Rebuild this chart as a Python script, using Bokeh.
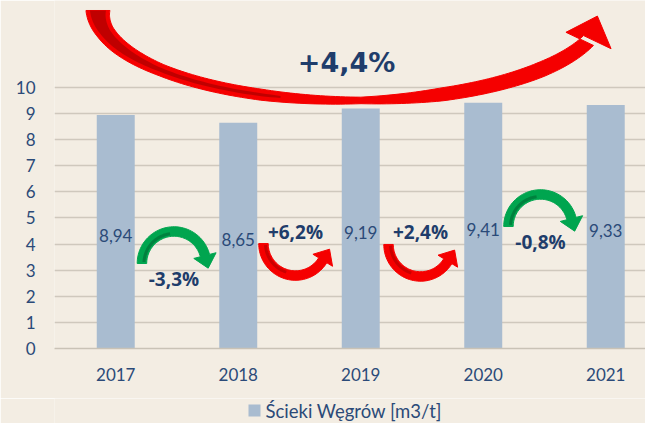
import numpy as np
from bokeh.plotting import figure
from bokeh.layouts import column
from bokeh.models import (ColumnDataSource, FixedTicker, Range1d)
from bokeh.embed import file_html
from bokeh.resources import INLINE
from bokeh.core.properties import value

# ---------------- data ----------------
years = ["2017", "2018", "2019", "2020", "2021"]
values = [8.94, 8.65, 9.19, 9.41, 9.33]
value_labels = ["8,94", "8,65", "9,19", "9,41", "9,33"]
change_labels = ["-3,3%", "+6,2%", "+2,4%", "-0,8%"]
total_label = "+4,4%"
y_ticks = [0, 1, 2, 3, 4, 5, 6, 7, 8, 9, 10]
series_name = "Ścieki Węgrów [m3/t]"

# ---------------- layout / style ----------------
BG = "#f3ede3"
BAR = "#a9bcd0"
TXT = "#2b4a78"
BOLD = "#1f3d6b"
RED, RED_DK = "#f50000", "#c00000"
GRN, GRN_DK = "#00a54f", "#00783a"

W, H = 645, 423
LEFT, BOTTOM = 54, 50
FH = 348
H1 = FH + BOTTOM
H2 = H - H1
FW = W - LEFT
X0, X1 = -0.5, -0.5 + FW / 122.5
Y0, Y1 = 0.0, 13.33
SX = FW / (X1 - X0)   # px per x unit
SY = FH / (Y1 - Y0)   # px per y unit

xs = list(range(len(years)))
xr = Range1d(X0, X1)

p1 = figure(width=W, height=H1, output_backend="svg", toolbar_location=None,
            x_range=xr, y_range=Range1d(Y0, Y1),
            min_border_left=LEFT, min_border_right=0, min_border_top=0, min_border_bottom=BOTTOM)
p1.background_fill_color = BG
p1.border_fill_color = BG
p1.outline_line_color = None

# axes
p1.xaxis.ticker = FixedTicker(ticks=xs)
p1.xaxis.major_label_overrides = {i: y for i, y in enumerate(years)}
p1.xaxis.axis_line_color = "#c9c2b6"
p1.xaxis.axis_line_width = 1.5
p1.xaxis.major_tick_line_color = None
p1.xaxis.minor_tick_line_color = None
p1.xaxis.major_label_standoff = 13
p1.xaxis.major_label_text_font = "Lato"
p1.xaxis.major_label_text_font_size = "17px"
p1.xaxis.major_label_text_color = TXT

p1.yaxis.ticker = FixedTicker(ticks=y_ticks)
p1.yaxis.axis_line_color = None
p1.yaxis.major_tick_line_color = None
p1.yaxis.minor_tick_line_color = None
p1.yaxis.major_label_standoff = 13
p1.yaxis.major_label_text_font = "Lato"
p1.yaxis.major_label_text_font_size = "17px"
p1.yaxis.major_label_text_color = TXT

p1.xgrid.grid_line_color = None
p1.ygrid.ticker = FixedTicker(ticks=y_ticks)
p1.ygrid.grid_line_color = "#cfc8bd"
p1.ygrid.grid_line_width = 1.3

# bars
src = ColumnDataSource(dict(x=xs, top=values, lab=value_labels,
                            ly=[v / 2 - 0.14 for v in values]))
bars = p1.vbar(x="x", top="top", width=0.31, source=src, fill_color=BAR, line_color=None)
p1.text(x="x", y="ly", text="lab", source=src, text_align="center", text_baseline="middle",
        text_font=value("Lato"), text_font_size="17px", text_color=TXT)

# ---------------- curved arrows (annotation shapes in px around data anchors) ----------------
def to_data(cx, cy, dx, dy):
    return list(cx + np.asarray(dx) / SX), list(cy + np.asarray(dy) / SY)

def arc_arrow(cx, cy, r, w, a0, a1, head_len, head_w, n=50):
    t = np.linspace(a0, a1, n)
    nx, ny = np.cos(t), np.sin(t)
    px, py = r * nx, r * ny
    ox, oy = px + nx * w / 2, py + ny * w / 2
    ix, iy = px - nx * w / 2, py - ny * w / 2
    s = np.sign(a1 - a0)
    tx, ty = -np.sin(a1) * s, np.cos(a1) * s
    ex, ey = px[-1], py[-1]
    hx = [ex + nx[-1] * head_w / 2, ex + tx * head_len, ex - nx[-1] * head_w / 2]
    hy = [ey + ny[-1] * head_w / 2, ey + ty * head_len, ey - ny[-1] * head_w / 2]
    X = list(ox) + hx + list(ix[::-1])
    Y = list(oy) + hy + list(iy[::-1])
    return to_data(cx, cy, X, Y)

def arc_line(cx, cy, r, a0, a1, n=30):
    t = np.linspace(a0, a1, n)
    return to_data(cx, cy, r * np.cos(t), r * np.sin(t))

arrow_anchor_x = [0.475, 1.467, 2.488, 3.467]
arrow_anchor_y = [3.256, 4.02, 3.985, 4.674]

for i, lab in enumerate(change_labels):
    cx, cy = arrow_anchor_x[i], arrow_anchor_y[i]
    down = lab.startswith("-")
    if down:
        ax, ay = arc_arrow(cx, cy, 32, 9.5, np.pi, 0.25, 13, 23)
        lx, ly = arc_line(cx, cy, 30, np.pi - 0.05, 1.7)
        col, dk, off = GRN, GRN_DK, -16
    else:
        ax, ay = arc_arrow(cx, cy, 32, 9.5, np.pi, 2 * np.pi - 0.55, 13, 23)
        lx, ly = arc_line(cx, cy, 30, np.pi + 0.05, 4.4)
        col, dk, off = RED, RED_DK, 12
    p1.patch(ax, ay, fill_color=col, line_color=col, line_width=1)
    p1.line(lx, ly, line_color=dk, line_width=3, line_alpha=0.8)
    p1.text(x=[cx], y=[cy + off / SY], text=[lab], text_align="center", text_baseline="middle",
            text_font=value("Open Sans"), text_font_style="bold", text_font_size="19px",
            text_color=BOLD)

# big arrow (ellipse arc, tapered)
bcx, bcy = 1.916, 12.947
A, B = 252.5, 90.0
th = np.linspace(np.pi, 0.34, 140)
wt = np.interp(th, [0.34, 0.72, 1.2, 1.53, 1.93, 2.42, 2.9, np.pi],
               [14, 15, 13, 6.5, 11, 12, 18, 24])
ex_, ey_ = A * np.cos(th), -B * np.sin(th)
gx, gy = np.cos(th) / A, -np.sin(th) / B
gn = np.hypot(gx, gy)
gx, gy = gx / gn, gy / gn
ox, oy = ex_ + gx * wt / 2, ey_ + gy * wt / 2
ix, iy = ex_ - gx * wt / 2, ey_ - gy * wt / 2
ang = np.radians(70)
dxh, dyh = np.cos(ang), np.sin(ang)
hl, hw = 26, 48
hx = [ex_[-1] + dyh * hw / 2, ex_[-1] + dxh * hl, ex_[-1] - dyh * hw / 2]
hy = [ey_[-1] - dxh * hw / 2, ey_[-1] + dyh * hl, ey_[-1] + dxh * hw / 2]
BX = list(ox) + hx[::-1] + list(ix[::-1])
BY = list(oy) + hy[::-1] + list(iy[::-1])
bx, by = to_data(bcx, bcy, BX, BY)
p1.patch(bx, by, fill_color=RED, line_color=RED, line_width=1)
# darker inner face on the left part
m = th > 1.85
wi = np.clip(wt[m] - 8, 0, None)
dox, doy = ex_[m] + gx[m] * wi / 2, ey_[m] + gy[m] * wi / 2
dix, diy = ex_[m] - gx[m] * wi / 2, ey_[m] - gy[m] * wi / 2
dx_, dy_ = to_data(bcx, bcy, list(dox) + list(dix[::-1]), list(doy) + list(diy[::-1]))
p1.patch(dx_, dy_, fill_color=RED_DK, line_color=None)

p1.text(x=[1.884], y=[10.955], text=[total_label], text_align="center", text_baseline="middle",
        text_font=value("DejaVu Sans"), text_font_style="bold", text_font_size="27px",
        text_color=BOLD)

# ---------------- legend strip (shares the x scale of the chart) ----------------
p2 = figure(width=W, height=H2, output_backend="svg", toolbar_location=None,
            x_range=xr, y_range=Range1d(0, H2),
            x_axis_type=None, y_axis_type=None,
            min_border_left=LEFT, min_border_right=0, min_border_top=0, min_border_bottom=0)
p2.background_fill_color = BG
p2.border_fill_color = BG
p2.outline_line_color = None
p2.xgrid.visible = False
p2.ygrid.visible = False
key_x = X0 + (254 - LEFT) / SX      # legend key position (layout, px -> x units)
p2.scatter(x=[key_x], y=[H2 - 12], marker="square", size=12, fill_color=BAR, line_color=None)
p2.text(x=[key_x + 11 / SX], y=[H2 - 12], text=[series_name], text_align="left",
        text_baseline="middle", text_font=value("Lato"), text_font_size="18.5px",
        text_color=TXT)

p = column(p1, p2, spacing=0)
open("out.html", "w").write(file_html(p, INLINE))
